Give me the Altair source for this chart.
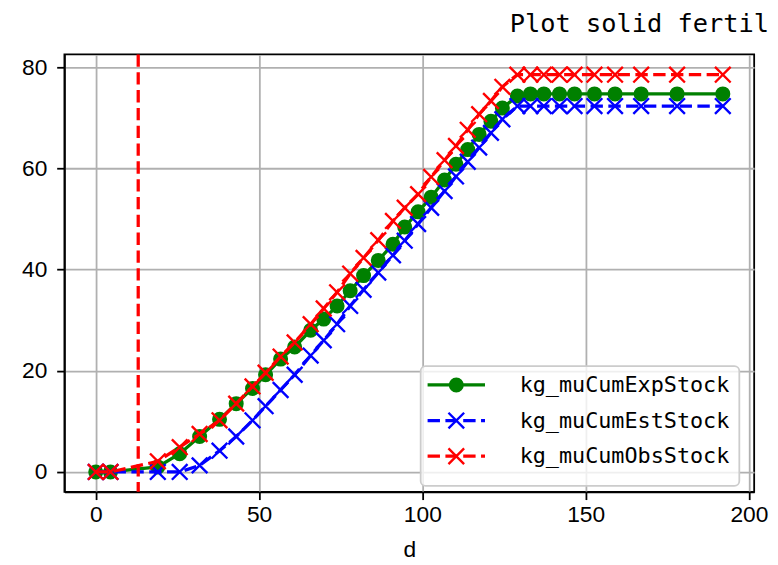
import altair as alt
import pandas as pd

# ---- data ----
days = [0, 4.5, 19, 25.7, 31.8, 37.9, 43, 48, 52, 56.6,
        60.9, 65.8, 69.8, 73.9, 77.9, 82, 86.5, 91, 94.6, 98.7,
        102.7, 106.8, 110.3, 113.9, 117.4, 121, 124.5, 129.1, 133.1, 137.2,
        142, 146.6, 152.7, 159, 167, 178, 192]
exp_stock = [0, 0, 1.0, 3.6, 7.0, 10.4, 13.5, 16.5, 19.2, 22.3,
             24.7, 28.0, 30.2, 32.8, 35.8, 38.8, 41.8, 45.0, 48.4, 51.4,
             54.3, 57.7, 60.8, 63.7, 66.7, 69.3, 71.9, 74.3, 74.7, 74.7,
             74.7, 74.7, 74.7, 74.7, 74.7, 74.7, 74.7]
est_stock = [0, 0, 0, 0, 1.3, 4.2, 7.0, 10.2, 13.0, 16.2,
             19.2, 23.0, 26.0, 29.2, 32.8, 36.0, 39.4, 42.8, 45.7, 49.0,
             52.2, 55.5, 58.4, 61.3, 64.1, 67.0, 69.7, 72.3, 72.3, 72.3,
             72.3, 72.3, 72.3, 72.3, 72.3, 72.3, 72.3]
obs_stock = [0, 0, 2.1, 4.9, 7.5, 10.2, 13.5, 16.9, 19.6, 22.8,
             25.6, 29.2, 32.3, 35.5, 39.2, 42.3, 45.8, 49.6, 52.2, 54.9,
             58.3, 61.6, 64.4, 67.6, 70.7, 73.3, 76.1, 78.5, 78.5, 78.5,
             78.5, 78.5, 78.5, 78.5, 78.5, 78.5, 78.5]
event_day = [13]

series_names = ["kg_muCumExpStock", "kg_muCumEstStock", "kg_muCumObsStock"]
series_values = [exp_stock, est_stock, obs_stock]
series_colors = ["#008000", "#0000ff", "#ff0000"]
series_dashed = [False, True, True]
x_ticks = [0, 50, 100, 150, 200]
y_ticks = [0, 20, 40, 60, 80]
title_text = "Plot solid fertil"

XPATH = "M-1,-1L1,1M-1,1L1,-1"
DASH = [12.5, 5.5]
LW = 3.3
CIRCLE_SIZE = 230
X_SIZE = 250
X_STROKE = 2.4

x_scale = alt.Scale(domain=[-9.6, 201.6], nice=False, zero=False)
y_scale = alt.Scale(domain=[-3.93, 82.5], nice=False, zero=False)
x_enc = alt.X("d:Q", scale=x_scale,
              axis=alt.Axis(values=x_ticks, title="d", labelPadding=4, titlePadding=13))
y_enc = alt.Y("v:Q", scale=y_scale,
              axis=alt.Axis(values=y_ticks, title=None, labelPadding=10))

layers = []
for name, vals, col, dashed in zip(series_names, series_values, series_colors, series_dashed):
    df = pd.DataFrame({"d": days, "v": vals})
    base = alt.Chart(df).encode(x=x_enc, y=y_enc)
    line_kw = dict(color=col, strokeWidth=LW)
    if dashed:
        line_kw["strokeDash"] = DASH
    layers.append(base.mark_line(**line_kw))
    if dashed:
        layers.append(base.mark_point(shape=XPATH, filled=False, size=X_SIZE,
                                      color=col, strokeWidth=X_STROKE, opacity=1))
    else:
        layers.append(base.mark_point(shape="circle", filled=True, size=CIRCLE_SIZE,
                                      color=col, opacity=1))

vline = alt.Chart(pd.DataFrame({"d": event_day})).mark_rule(
    color="#ff0000", strokeWidth=LW, strokeDash=DASH).encode(x=alt.X("d:Q", scale=x_scale))
layers.append(vline)

one = alt.Data(values=[{}])

# title (cut off at the right edge as in the reference)
layers.append(alt.Chart(one).mark_text(
    align="left", baseline="alphabetic", font="DejaVu Sans Mono", fontSize=25.6, color="black"
).encode(x=alt.value(450), y=alt.value(-23), text=alt.value(title_text)))

# ---- manual matplotlib-style legend ----
layers.append(alt.Chart(one).mark_rect(
    fill="white", fillOpacity=0.8, stroke="#cccccc", strokeWidth=1.8, cornerRadius=5
).encode(x=alt.value(360), x2=alt.value(682), y=alt.value(315), y2=alt.value(436)))
row_y = [334, 370, 406]
for name, col, dashed, ry in zip(series_names, series_colors, series_dashed, row_y):
    kw = dict(color=col, strokeWidth=LW)
    if dashed:
        kw["strokeDash"] = DASH
    layers.append(alt.Chart(one).mark_rule(**kw).encode(
        x=alt.value(367), x2=alt.value(425), y=alt.value(ry)))
    if dashed:
        pt = alt.Chart(one).mark_point(shape=XPATH, filled=False, size=X_SIZE,
                                       color=col, strokeWidth=X_STROKE, opacity=1)
    else:
        pt = alt.Chart(one).mark_point(shape="circle", filled=True, size=CIRCLE_SIZE,
                                       color=col, opacity=1)
    layers.append(pt.encode(x=alt.value(396), y=alt.value(ry)))
    layers.append(alt.Chart(one).mark_text(
        align="left", baseline="middle", font="DejaVu Sans Mono", fontSize=22, color="black"
    ).encode(x=alt.value(460), y=alt.value(ry), text=alt.value(name)))

chart = alt.layer(*layers).properties(
    width=697, height=442,
    autosize=alt.AutoSizeParams(type="none"),
    padding={"left": 57, "top": 44, "right": 16, "bottom": 71},
).configure_view(stroke="black", strokeWidth=1.8).configure_axis(
    domainColor="black", domainWidth=1.8, tickColor="black", tickWidth=1.8, tickSize=7.8,
    gridColor="#b0b0b0", gridWidth=1.8, labelFont="Liberation Sans", labelFontSize=23,
    labelColor="black", titleFont="Liberation Sans", titleFontSize=23,
    titleFontWeight="normal", titleColor="black",
)

chart.save("out.html", embed_options={"renderer": "svg", "actions": False})
